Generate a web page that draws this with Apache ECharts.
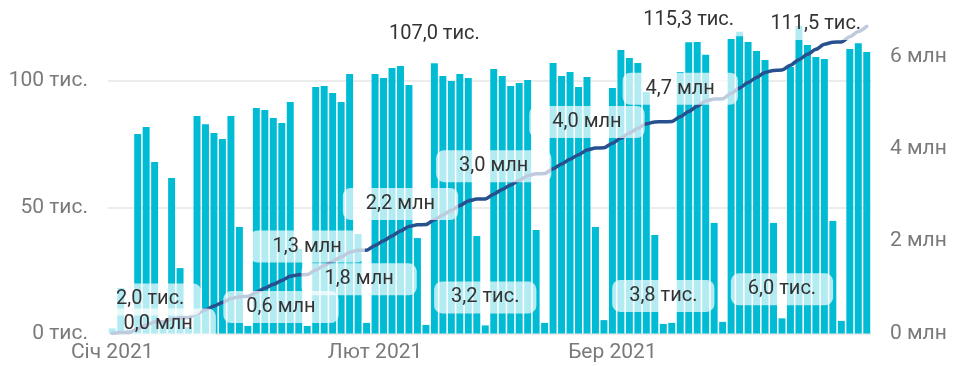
<!DOCTYPE html>
<html>
<head>
<meta charset="utf-8">
<script src="https://cdn.jsdelivr.net/npm/echarts@6/dist/echarts.min.js"></script>
<style>
html,body{margin:0;padding:0;background:#fff;}
#chart{width:954px;height:366px;}
</style>
</head>
<body>
<div id="chart"></div>
<script>
// Daily values (thousands), 1 Jan – 31 Mar 2021
const startDate = '2021-01-01';
const dailyValues = [
  2.0, 18.0, 1.5, 79.0, 81.8, 67.9, 5.0, 61.6, 25.9, 2.5,
  86.1, 82.9, 79.4, 77.0, 86.1, 42.2, 3.0, 89.3, 88.5, 85.3,
  83.4, 91.7, 33.5, 3.0, 97.6, 98.0, 95.2, 91.7, 102.8, 39.4,
  4.2, 102.8, 101.2, 105.1, 105.9, 98.4, 37.8, 3.4, 107.0, 102.0,
  100.0, 102.8, 101.2, 38.6, 3.2, 104.8, 102.0, 98.0, 99.2, 100.4,
  41.0, 4.2, 107.1, 102.0, 103.6, 97.6, 101.6, 42.2, 5.3, 97.2,
  112.3, 109.1, 107.1, 95.6, 39.0, 3.8, 4.2, 103.6, 115.3, 115.4,
  110.4, 43.8, 4.6, 116.6, 119.5, 115.4, 111.9, 108.3, 43.8, 6.0,
  105.5, 121.8, 114.3, 109.5, 108.7, 44.6, 5.0, 112.7, 115.0, 111.5
];
// Running total (millions)
const cumulativeValues = [
  0.002, 0.020, 0.0215, 0.1005, 0.1823, 0.2502, 0.2552, 0.3168, 0.3427, 0.3452,
  0.4313, 0.5142, 0.5936, 0.6706, 0.7567, 0.7989, 0.8019, 0.8912, 0.9797, 1.0650,
  1.1484, 1.2401, 1.2736, 1.2766, 1.3742, 1.4722, 1.5674, 1.6591, 1.7619, 1.8013,
  1.8055, 1.9083, 2.0095, 2.1146, 2.2205, 2.3189, 2.3567, 2.3601, 2.4671, 2.5691,
  2.6691, 2.7719, 2.8731, 2.9117, 2.9149, 3.0197, 3.1217, 3.2197, 3.3189, 3.4193,
  3.4603, 3.4645, 3.5716, 3.6736, 3.7772, 3.8748, 3.9764, 4.0186, 4.0239, 4.1211,
  4.2334, 4.3425, 4.4496, 4.5452, 4.5842, 4.5880, 4.5922, 4.6958, 4.8111, 4.9265,
  5.0369, 5.0807, 5.0853, 5.2019, 5.3214, 5.4368, 5.5487, 5.6570, 5.7008, 5.7068,
  5.8123, 5.9341, 6.0484, 6.1579, 6.2666, 6.3112, 6.3162, 6.4289, 6.5439, 6.6554
];
const monthLabels = ['Січ 2021', 'Лют 2021', 'Бер 2021'];
const monthStartIndex = [0, 31, 59];
const leftTicks = [0, 50, 100];      // тис.
const rightTicks = [0, 2, 4, 6];     // млн
const barLabelIndex = [0, 38, 44, 65, 68, 79, 89];
const lineLabelIndex = [0, 12, 23, 29, 34, 45, 56, 67];

// build category list of dates
const categories = [];
{
  const d0 = new Date(startDate + 'T00:00:00Z');
  for (let i = 0; i < dailyValues.length; i++) {
    const d = new Date(d0.getTime() + i * 86400000);
    categories.push(d.toISOString().slice(0, 10));
  }
}

const fmt1 = v => v.toFixed(1).replace('.', ',');
const FONT = 'Roboto';

// label offsets (style only)
const barLabelOffset = {0: [38, -29], 38: [0, -29], 44: [0, -28], 65: [0, -28], 68: [0, -22], 79: [0, -29], 89: [-51, -28]};
const lineLabelOffset = {0: [46, -9], 12: [67, 1], 23: [0, -28], 29: [1, 29], 34: [0, -27], 45: [0, -28], 56: [0, -28], 67: [0, -28]};

const labelBox = (padH) => ({
  show: true,
  position: 'inside',
  fontFamily: FONT,
  fontSize: 20,
  lineHeight: 20,
  color: '#333333',
  opacity: 1,
  backgroundColor: 'rgba(255,255,255,0.7)',
  borderRadius: 8,
  padding: [6, padH]
});

const barLabelData = barLabelIndex.map(i => ({
  value: [i, dailyValues[i]],
  label: Object.assign(labelBox(17), {offset: barLabelOffset[i], formatter: () => fmt1(dailyValues[i]) + ' тис.'})
}));
const lineLabelData = lineLabelIndex.map(i => ({
  value: [i, cumulativeValues[i]],
  label: Object.assign(labelBox(23), {offset: lineLabelOffset[i], formatter: () => fmt1(cumulativeValues[i]) + ' млн'})
}));

const leftMax = 124;
const rightMax = 6.784;

const chart = echarts.init(document.getElementById('chart'), null, {renderer: 'canvas'});
chart.setOption({
  animation: false,
  backgroundColor: '#ffffff',
  grid: {left: 108, right: 83, top: 20.4, bottom: 32.5, containLabel: false},
  xAxis: {
    type: 'category',
    data: categories,
    boundaryGap: true,
    axisLine: {show: false},
    axisTick: {show: false},
    axisLabel: {
      interval: (idx) => monthStartIndex.includes(idx),
      formatter: (val, idx) => {
        const k = monthStartIndex.indexOf(idx);
        return k >= 0 ? monthLabels[k] : '';
      },
      fontFamily: FONT,
      fontSize: 21,
      color: '#7a7a7a',
      margin: 9,
      hideOverlap: false
    }
  },
  yAxis: [
    {
      type: 'value',
      min: leftTicks[0],
      max: leftMax,
      interval: leftTicks[1] - leftTicks[0],
      axisLine: {show: false},
      axisTick: {show: false},
      splitLine: {show: true, showMaxLine: false, lineStyle: {color: '#e6e6e6', width: 1.5}},
      axisLabel: {
        showMaxLabel: false,
        formatter: v => v + ' тис.',
        fontFamily: FONT,
        fontSize: 21,
        color: '#7a7a7a',
        margin: 20
      }
    },
    {
      type: 'value',
      min: rightTicks[0],
      max: rightMax,
      interval: rightTicks[1] - rightTicks[0],
      axisLine: {show: false},
      axisTick: {show: false},
      splitLine: {show: false},
      axisLabel: {
        showMaxLabel: false,
        formatter: v => v + ' млн',
        fontFamily: FONT,
        fontSize: 21,
        color: '#7a7a7a',
        margin: 19
      }
    }
  ],
  series: [
    {
      type: 'bar',
      data: dailyValues,
      yAxisIndex: 0,
      barCategoryGap: '18%',
      itemStyle: {color: '#00bbd4'},
      z: 2,
      silent: true
    },
    {
      type: 'line',
      data: cumulativeValues,
      yAxisIndex: 1,
      showSymbol: false,
      symbol: 'none',
      smooth: 0.25,
      smoothMonotone: 'x',
      lineStyle: {color: '#27508f', width: 3.5, cap: 'round', join: 'round'},
      z: 3,
      silent: true
    },
    {
      type: 'scatter',
      yAxisIndex: 0,
      data: barLabelData,
      symbol: 'circle',
      symbolSize: 1,
      itemStyle: {color: 'rgba(0,0,0,0)'},
      z: 5,
      silent: true
    },
    {
      type: 'scatter',
      yAxisIndex: 1,
      data: lineLabelData,
      symbol: 'circle',
      symbolSize: 1,
      itemStyle: {color: 'rgba(0,0,0,0)'},
      z: 5,
      silent: true
    }
  ]
});
</script>
</body>
</html>
